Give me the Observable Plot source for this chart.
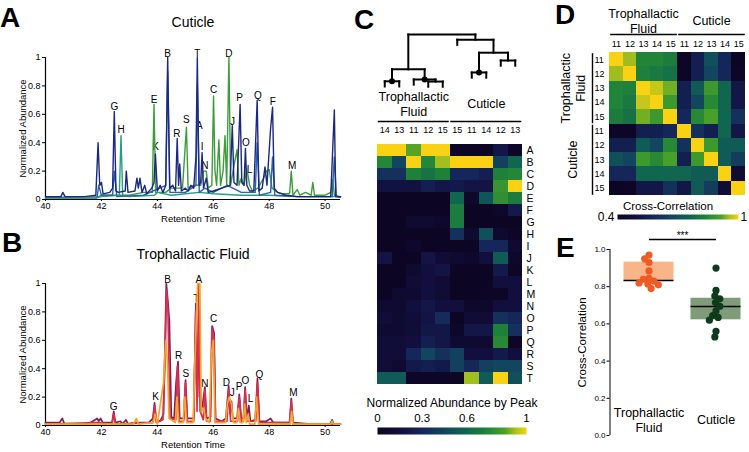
<!DOCTYPE html>
<html><head><meta charset="utf-8">
<script src="https://cdn.jsdelivr.net/npm/d3@7"></script>
<script src="https://cdn.jsdelivr.net/npm/@observablehq/plot@0.6"></script>
<style>
html,body{margin:0;padding:0;background:#fff;}
#fig{position:relative;width:749px;height:452px;overflow:hidden;font-family:"Liberation Sans",Arial,sans-serif;}
#fig svg{position:absolute;background:transparent;overflow:visible;}
.letter{position:absolute;font:bold 28px/28px "Liberation Sans",Arial,sans-serif;color:#000;}
</style></head><body><div id="fig"></div>
<script>
// ---------------- DATA ----------------
// Panel A: cuticle chromatogram traces, [retention time, normalized abundance]
const cutNavy = [[40,0.02],[40.55,0.02],[40.62,0.05],[40.7,0.02],[41.4,0.02],[41.8,0.03],[41.88,0.40],[41.94,0.1],[42.0,0.12],[42.06,0.04],[42.3,0.05],[42.4,0.08],[42.46,0.62],[42.52,0.06],[42.6,0.05],[42.85,0.06],[42.89,0.20],[42.95,0.05],[43.2,0.06],[43.27,0.15],[43.32,0.08],[43.38,0.15],[43.45,0.05],[43.55,0.10],[43.62,0.04],[43.8,0.08],[43.88,0.12],[43.93,0.32],[44.0,0.06],[44.1,0.1],[44.2,0.05],[44.3,0.1],[44.37,1.0],[44.44,0.08],[44.55,0.1],[44.65,0.06],[44.71,0.43],[44.76,0.1],[44.8,0.25],[44.86,0.06],[45.0,0.08],[45.1,0.06],[45.2,0.1],[45.3,0.08],[45.38,0.3],[45.43,1.0],[45.49,0.1],[45.55,0.12],[45.60,0.33],[45.65,0.08],[45.75,0.15],[45.82,0.05],[46.0,0.06],[46.3,0.08],[46.6,0.1],[46.68,0.52],[46.74,0.12],[46.85,0.1],[46.96,0.67],[47.02,0.12],[47.1,0.1],[47.15,0.36],[47.2,0.1],[47.3,0.06],[47.45,0.06],[47.57,0.70],[47.63,0.06],[47.75,0.08],[47.85,0.23],[47.92,0.1],[48.05,0.5],[48.12,0.65],[48.18,0.08],[48.3,0.05],[48.6,0.03],[49.0,0.02],[50.2,0.02],[50.33,0.63],[50.38,0.02],[50.55,0.02]];
const cutBlue = [[40,0.015],[41.85,0.02],[41.9,0.1],[42.0,0.03],[42.4,0.03],[42.46,0.2],[42.55,0.02],[43.5,0.03],[44.3,0.1],[44.37,0.9],[44.45,0.05],[45.0,0.05],[45.38,0.1],[45.43,0.8],[45.5,0.05],[45.7,0.08],[46.0,0.05],[46.5,0.1],[47.0,0.05],[47.5,0.05],[47.57,0.4],[47.65,0.03],[48.05,0.05],[48.12,0.3],[48.2,0.03],[49,0.02],[50.25,0.02],[50.33,0.3],[50.4,0.02],[50.55,0.015]];
const cutGreen = [[40,0.01],[41.8,0.01],[42.0,0.03],[42.6,0.03],[43.0,0.03],[43.5,0.05],[43.82,0.05],[43.88,0.67],[43.94,0.05],[44.3,0.05],[44.5,0.08],[44.9,0.08],[45.04,0.51],[45.1,0.08],[45.3,0.1],[45.55,0.1],[45.65,0.2],[45.75,0.2],[45.82,0.08],[45.95,0.1],[46.01,0.73],[46.06,0.2],[46.12,0.1],[46.2,0.42],[46.26,0.1],[46.35,0.2],[46.42,0.45],[46.48,0.1],[46.56,1.0],[46.62,0.1],[46.75,0.25],[46.85,0.35],[46.92,0.1],[47.0,0.15],[47.1,0.1],[47.2,0.22],[47.3,0.1],[47.4,0.06],[47.6,0.08],[47.8,0.15],[47.9,0.2],[48.0,0.21],[48.1,0.08],[48.3,0.05],[48.5,0.04],[48.73,0.04],[48.79,0.20],[48.85,0.03],[49.0,0.07],[49.1,0.03],[49.3,0.05],[49.5,0.03],[49.56,0.12],[49.62,0.03],[50.0,0.03],[50.2,0.05],[50.27,0.14],[50.33,0.03],[50.55,0.02]];
const cutTeal = [[40,0.01],[41.8,0.01],[42.0,0.02],[42.64,0.03],[42.70,0.45],[42.76,0.03],[43.0,0.02],[43.9,0.03],[44.0,0.05],[44.5,0.03],[45.0,0.04],[45.5,0.05],[46.0,0.04],[47.0,0.03],[48.0,0.03],[49.0,0.02],[50.55,0.02]];
const cutLabels = [["G",42.46,0.62],["H",42.70,0.46],["E",43.88,0.67],["K",43.94,0.34],["B",44.37,1.0],["R",44.70,0.43],["S",45.04,0.53],["A",45.50,0.49],["T",45.43,1.0],["I",45.60,0.34],["N",45.70,0.21],["C",46.01,0.74],["D",46.56,1.0],["J",46.69,0.52],["P",46.94,0.69],["O",47.17,0.37],["L",47.30,0.18],["Q",47.60,0.70],["F",48.13,0.66],["M",48.82,0.21]];

// Panel B: trophallactic fluid chromatogram traces
const tfMaroon = [[40,0.02],[40.5,0.02],[40.6,0.05],[40.68,0.01],[41.3,0.01],[41.6,0.02],[41.85,0.05],[41.9,0.03],[41.97,0.05],[42.05,0.02],[42.38,0.02],[42.44,0.10],[42.5,0.02],[42.68,0.03],[42.75,0.01],[42.88,0.04],[42.95,0.01],[43.2,0.02],[43.7,0.02],[43.84,0.05],[43.9,0.16],[43.96,0.04],[44.1,0.03],[44.22,0.08],[44.32,1.0],[44.38,0.87],[44.43,0.73],[44.5,0.06],[44.6,0.05],[44.67,0.3],[44.74,0.45],[44.8,0.05],[44.95,0.05],[45.01,0.32],[45.07,0.05],[45.3,0.05],[45.38,0.86],[45.44,0.2],[45.5,0.8],[45.55,0.1],[45.62,0.15],[45.70,0.27],[45.76,0.05],[45.9,0.06],[45.96,0.70],[46.03,0.65],[46.08,0.05],[46.3,0.03],[46.45,0.05],[46.55,0.28],[46.6,0.08],[46.65,0.17],[46.7,0.05],[46.85,0.05],[46.93,0.22],[47.0,0.05],[47.08,0.05],[47.14,0.27],[47.2,0.05],[47.27,0.14],[47.33,0.03],[47.5,0.04],[47.58,0.33],[47.65,0.03],[47.9,0.03],[48.05,0.05],[48.15,0.02],[48.73,0.02],[48.79,0.19],[48.85,0.02],[49.5,0.01],[50.18,0.01],[50.25,0.04],[50.3,0.01],[50.55,0.01]];
const tfCrimson = [[40,0.01],[41.85,0.02],[42.38,0.01],[42.44,0.08],[42.5,0.01],[43.84,0.02],[43.9,0.14],[43.96,0.02],[44.2,0.04],[44.28,0.5],[44.33,0.95],[44.38,0.8],[44.45,0.05],[44.66,0.04],[44.72,0.42],[44.78,0.03],[44.94,0.03],[45.0,0.3],[45.07,0.03],[45.3,0.03],[45.37,0.8],[45.42,0.1],[45.48,1.0],[45.53,0.1],[45.64,0.04],[45.70,0.25],[45.76,0.03],[45.89,0.03],[45.95,0.68],[46.02,0.62],[46.08,0.03],[46.49,0.03],[46.55,0.25],[46.62,0.03],[46.87,0.03],[46.93,0.2],[47.0,0.03],[47.08,0.03],[47.14,0.25],[47.2,0.03],[47.52,0.03],[47.58,0.3],[47.65,0.02],[48.73,0.02],[48.79,0.17],[48.85,0.01],[50.55,0.01]];
const tfOrange = [[40,0.01],[43.15,0.01],[43.25,0.05],[43.32,0.01],[43.85,0.02],[43.92,0.08],[44.0,0.01],[44.22,0.3],[44.3,0.6],[44.36,0.45],[44.42,0.05],[44.64,0.02],[44.7,0.2],[44.76,0.02],[44.92,0.02],[44.98,0.2],[45.05,0.02],[45.28,0.02],[45.35,0.5],[45.44,1.0],[45.52,1.0],[45.57,0.1],[45.65,0.12],[45.72,0.05],[45.86,0.02],[45.93,0.5],[46.0,0.6],[46.06,0.02],[46.44,0.02],[46.5,0.15],[46.57,0.2],[46.65,0.15],[46.72,0.02],[46.84,0.02],[46.9,0.12],[46.96,0.02],[47.06,0.02],[47.12,0.15],[47.18,0.02],[47.25,0.08],[47.3,0.01],[47.49,0.01],[47.55,0.2],[47.62,0.01],[48.75,0.01],[48.8,0.1],[48.85,0.01],[50.2,0.01],[50.25,0.03],[50.3,0.01],[50.55,0.01]];
const tfLabels = [["G",42.44,0.105],["K",43.94,0.17],["B",44.37,1.0],["R",44.76,0.458],["S",45.02,0.333],["T",45.39,0.865],["A",45.48,1.0],["N",45.70,0.267],["C",46.01,0.72],["D",46.47,0.274],["J",46.68,0.2],["P",46.92,0.24],["O",47.15,0.286],["L",47.33,0.155],["Q",47.65,0.33],["M",48.87,0.20]];

const retTicks = [40, 42, 44, 46, 48, 50];
const abundTicks = [0, 0.2, 0.4, 0.6, 0.8, 1];

// Panel C: heatmap (rows = peaks A..T, columns = samples in dendrogram order)
const peakLetters = ["A","B","C","D","E","F","G","H","I","J","K","L","M","N","O","P","Q","R","S","T"];
const heatCols = ["14","13","11","12","15","15","11","14","12","13"];
const heatGroups = [{name:"Trophallactic\nFluid", start:0, end:5}, {name:"Cuticle", start:5, end:10}];
const heatValues = [
  [1, 1, 0.86, 1, 1, 0, 0, 0, 0.2, 0.02],
  [0.74, 0.45, 1, 0.74, 0.92, 1, 1, 1, 0.42, 0.6],
  [0.35, 0.35, 0.72, 0.66, 0.72, 0.3, 0.3, 0.25, 0.72, 0.74],
  [0.17, 0.17, 0.17, 0.25, 0.2, 0.22, 0.18, 0.18, 0.8, 1],
  [0, 0, 0, 0, 0, 0.6, 0.05, 0.52, 0.78, 0.7],
  [0, 0, 0, 0, 0, 0.7, 0, 0, 0.05, 0.22],
  [0, 0, 0.07, 0.07, 0.05, 0.7, 0, 0, 0, 0],
  [0, 0, 0, 0, 0, 0.35, 0.07, 0.5, 0.06, 0.02],
  [0, 0, 0.05, 0, 0, 0, 0, 0.3, 0.3, 0.08],
  [0.18, 0, 0, 0.18, 0.1, 0.08, 0.05, 0.15, 0.55, 0.05],
  [0, 0, 0.07, 0.15, 0.18, 0, 0, 0, 0.22, 0.02],
  [0, 0, 0.1, 0.15, 0.1, 0, 0, 0, 0.15, 0.15],
  [0, 0.08, 0.08, 0.15, 0.1, 0, 0, 0.02, 0.02, 0.15],
  [0.08, 0.08, 0.15, 0.2, 0.15, 0.15, 0.05, 0.05, 0.15, 0.15],
  [0.12, 0.08, 0.12, 0.18, 0.32, 0, 0.1, 0.1, 0.35, 0.3],
  [0.08, 0.08, 0.12, 0.2, 0.2, 0.03, 0.2, 0.2, 0.72, 0.35],
  [0.12, 0.12, 0.15, 0.25, 0.2, 0.08, 0.08, 0.08, 0.75, 0.02],
  [0.12, 0.12, 0.3, 0.45, 0.35, 0.42, 0.15, 0.15, 0.22, 0.15],
  [0.12, 0.08, 0.22, 0.25, 0.22, 0.42, 0.3, 0.42, 0.45, 0.45],
  [0.55, 0.55, 0.02, 0.02, 0.02, 0.02, 0.92, 0.55, 1, 0.5]
];
// dendrogram merges (children: leaf column index or merge id; height: linkage distance, root = 1)
const dendroMerges = [
  {id:"a", left:0, right:1, height:0.10, dot:true},
  {id:"b", left:3, right:4, height:0.095},
  {id:"c", left:2, right:"b", height:0.135, dot:true},
  {id:"d", left:"a", right:"c", height:0.33},
  {id:"e", left:6, right:7, height:0.27, dot:true},
  {id:"f", left:8, right:9, height:0.50},
  {id:"g", left:"e", right:"f", height:0.65},
  {id:"h", left:5, right:"g", height:0.90},
  {id:"root", left:"d", right:"h", height:1.0}
];
const abundanceTicks = [0, 0.3, 0.6, 1];

// Panel D: cross-correlation matrix
const ccSamples = ["11","12","13","14","15","11","12","13","14","15"];
const ccGroups = [{name:"Trophallactic\nFluid", start:0, end:5}, {name:"Cuticle", start:5, end:10}];
const ccMatrix = [
  [1, 0.95, 0.84, 0.84, 0.82, 0.41, 0.55, 0.70, 0.58, 0.40],
  [0.95, 1, 0.83, 0.81, 0.79, 0.41, 0.55, 0.67, 0.58, 0.41],
  [0.84, 0.83, 1, 0.97, 0.93, 0.55, 0.73, 0.89, 0.76, 0.52],
  [0.84, 0.81, 0.97, 1, 0.89, 0.55, 0.67, 0.85, 0.76, 0.52],
  [0.82, 0.79, 0.93, 0.89, 1, 0.58, 0.85, 0.91, 0.76, 0.61],
  [0.41, 0.41, 0.55, 0.55, 0.58, 1, 0.61, 0.55, 0.76, 0.52],
  [0.55, 0.55, 0.73, 0.67, 0.85, 0.61, 1, 0.89, 0.73, 0.73],
  [0.70, 0.67, 0.89, 0.85, 0.91, 0.55, 0.89, 1, 0.73, 0.64],
  [0.58, 0.58, 0.76, 0.76, 0.76, 0.76, 0.73, 0.73, 1, 0.46],
  [0.40, 0.41, 0.52, 0.52, 0.61, 0.52, 0.73, 0.64, 0.46, 1]
];
const ccRange = [0.4, 1];

// Panel E: within-group cross-correlations
const eCats = ["Trophallactic\nFluid", "Cuticle"];
const eTF = [0.97, 0.95, 0.93, 0.885, 0.845, 0.84, 0.83, 0.82, 0.815, 0.81, 0.79];
const eCut = [0.90, 0.78, 0.75, 0.735, 0.715, 0.695, 0.67, 0.645, 0.635, 0.62, 0.56, 0.53];
const eBoxes = [{cat: eCats[0], low: 0.833, high: 0.932, mid: 0.833}, {cat: eCats[1], low: 0.622, high: 0.738, mid: 0.693}];
const eTicks = [0, 0.2, 0.4, 0.6, 0.8, 1];

// ---------------- STYLE ----------------
const FONT = "Liberation Sans, Arial, sans-serif";
const mapStops = [0, 0.15, 0.3, 0.45, 0.58, 0.72, 0.85, 0.93, 1];
const mapColors = ["#0c0524","#120f3e","#15275a","#12465f","#0f6152","#1d813a","#48a02a","#b0c31c","#f8d213"];
const baseStyle = {fontFamily: FONT, fontSize: "9px", background: "transparent", overflow: "visible", color: "black"};
const fig = document.getElementById("fig");
function place(el, left, top) { el.style.left = left + "px"; el.style.top = top + "px"; fig.appendChild(el); }
function letter(t, left, top) { const d = document.createElement("div"); d.className = "letter"; d.textContent = t; d.style.left = left + "px"; d.style.top = top + "px"; fig.appendChild(d); }

// ---------------- A & B ----------------
function chrom(series, labels, title, titleDy, sw) {
  return Plot.plot({
    width: 349, height: 226, marginLeft: 45, marginRight: 9, marginTop: 57, marginBottom: 27,
    style: baseStyle,
    x: {domain: [40, 50.55]}, y: {domain: [0, 1]},
    marks: [
      Plot.axisX({ticks: retTicks, tickSize: 2, tickPadding: 1, fontSize: 9, label: null, color: "black"}),
      Plot.axisY({ticks: abundTicks, tickSize: 3, tickPadding: 2, fontSize: 9, tickFormat: d3.format("~g"), label: null, color: "black"}),
      Plot.ruleX([40], {y1: () => 0, y2: () => 1, stroke: "black", strokeWidth: 1.2}),
      Plot.text(labels, {x: d => d[1], y: d => d[2], text: d => d[0], lineAnchor: "bottom", dy: -1, fontSize: 10, fill: "black"}),
      ...series.map(s => Plot.line(s.data, {x: d => d[0], y: d => d[1], stroke: s.color, strokeWidth: sw})),
      Plot.ruleY([0], {stroke: "black", strokeWidth: 1}),
      Plot.text([title], {frameAnchor: "top", dy: titleDy, fontSize: 14, lineAnchor: "middle", fill: "black"}),
      Plot.text(["Retention Time"], {frameAnchor: "bottom", dy: 19, fontSize: 9.5, lineAnchor: "middle", fill: "black"}),
      Plot.text(["Normalized Abundance"], {frameAnchor: "left", rotate: -90, dx: -23, textAnchor: "middle", fontSize: 9.5, lineAnchor: "middle", fill: "black"})
    ]
  });
}
place(chrom([{data: cutGreen, color: "#3d9c3c"}, {data: cutTeal, color: "#27a07c"}, {data: cutBlue, color: "#2d62b0"}, {data: cutNavy, color: "#1b2a7e"}], cutLabels, "Cuticle", -35, 1.4), 0, 0);
place(chrom([{data: tfMaroon, color: "#7e1f5c"}, {data: tfCrimson, color: "#d8304f"}, {data: tfOrange, color: "#f7a52a"}], tfLabels, "Trophallactic Fluid", -29, 1.7), 0, 226);

// ---------------- C ----------------
const pos = {};
heatCols.forEach((c, i) => pos[i] = {x: i + 0.5, h: null});
const leafStub = 0.1;
const dendroSegs = [], dendroDots = [];
for (const m of dendroMerges) {
  const L = pos[m.left], R = pos[m.right];
  dendroSegs.push({x1: L.x, y1: m.height, x2: R.x, y2: m.height});
  for (const c of [L, R]) dendroSegs.push({x1: c.x, y1: m.height, x2: c.x, y2: c.h === null ? m.height - leafStub : c.h});
  pos[m.id] = {x: (L.x + R.x) / 2, h: m.height};
  if (m.dot) dendroDots.push(pos[m.id]);
}
place(Plot.plot({
  width: 190, height: 100, marginLeft: 17, marginRight: 28, marginTop: 9, marginBottom: 39,
  style: baseStyle,
  x: {domain: [0, 10], axis: null}, y: {domain: [0, 1], axis: null},
  marks: [
    Plot.link(dendroSegs, {x1: "x1", y1: "y1", x2: "x2", y2: "y2", stroke: "black", strokeWidth: 2, strokeLinecap: "square"}),
    Plot.dot(dendroDots, {x: "x", y: "h", r: 3, fill: "black"}),
    Plot.ruleY(heatGroups, {x1: d => d.start + 0.05, x2: d => d.end - 0.05, y: () => 0, dy: 35, stroke: "black", strokeWidth: 1.5}),
    Plot.text(heatGroups, {x: d => (d.start + d.end) / 2, y: () => 0, dy: 17, text: "name", lineAnchor: "middle", lineHeight: 1.2, fontSize: 12.5, fill: "black"})
  ]
}), 360, 25);

const heatCells = [];
heatValues.forEach((row, r) => row.forEach((v, c) => heatCells.push({row: peakLetters[r], c, v})));
const abundColor = {type: "linear", domain: mapStops, range: mapColors, interpolate: "rgb"};
place(Plot.plot({
  width: 190, height: 305, marginLeft: 17, marginRight: 28, marginTop: 57, marginBottom: 5,
  style: baseStyle,
  x: {domain: [0, 10], axis: null},
  y: {type: "band", domain: peakLetters, padding: 0, axis: null},
  color: abundColor,
  marks: [
    Plot.barX(heatCells, {x1: "c", x2: d => d.c + 1, y: "row", fill: "v", inset: 0, shapeRendering: "crispEdges"}),
    Plot.text(peakLetters, {y: d => d, frameAnchor: "right", dx: 4, textAnchor: "start", fontSize: 10.5, fill: "#000000"}),
    Plot.text(heatCols, {x: (d, i) => i + 0.5, frameAnchor: "top", dy: -12, fontSize: 9, lineAnchor: "middle", fill: "black"})
  ]
}), 360, 85);

place(Plot.plot({
  width: 190, height: 45, marginLeft: 17, marginRight: 24, marginTop: 32, marginBottom: 6,
  style: baseStyle,
  x: {domain: [0, 1], axis: null}, y: {domain: [0, 1], axis: null},
  color: abundColor,
  marks: [
    Plot.raster({x1: 0, x2: 1, y1: 0, y2: 1, width: 200, height: 1, fill: (x, y) => x, imageRendering: "auto"}),
    Plot.text(abundanceTicks, {x: d => d, frameAnchor: "top", dy: -9, fontSize: 11.5, lineAnchor: "middle", text: d3.format("~g"), fill: "black"}),
    Plot.text(["Normalized Abundance by Peak"], {frameAnchor: "top", dy: -24, fontSize: 12, lineAnchor: "middle", fill: "black"})
  ]
}), 360, 395);

// ---------------- D ----------------
const ccCells = [];
ccMatrix.forEach((row, r) => row.forEach((v, c) => ccCells.push({r, c, v})));
const ccColor = {type: "linear", domain: mapStops.map(t => ccRange[0] + t * (ccRange[1] - ccRange[0])), range: mapColors, interpolate: "rgb"};
place(Plot.plot({
  width: 189, height: 200, marginLeft: 49, marginRight: 4, marginTop: 52, marginBottom: 5,
  style: baseStyle,
  x: {domain: [0, 10], axis: null}, y: {domain: [0, 10], reverse: true, axis: null},
  color: ccColor,
  marks: [
    Plot.rect(ccCells, {x1: "c", x2: d => d.c + 1, y1: "r", y2: d => d.r + 1, fill: "v", shapeRendering: "crispEdges"}),
    Plot.text(ccSamples, {x: (d, i) => i + 0.5, frameAnchor: "top", dy: -8, fontSize: 9, lineAnchor: "middle", fill: "black"}),
    Plot.text(ccSamples, {y: (d, i) => i + 0.5, frameAnchor: "left", dx: -15, textAnchor: "start", fontSize: 9, fill: "black"}),
    Plot.link(ccGroups, {x1: d => d.start + 0.05, x2: d => d.end - 0.05, y1: () => 0, y2: () => 0, dy: -18, stroke: "black", strokeWidth: 1.4}),
    Plot.link(ccGroups, {x1: () => 0, x2: () => 0, y1: d => d.start + 0.05, y2: d => d.end - 0.05, dx: -17, stroke: "black", strokeWidth: 1.4}),
    Plot.text(ccGroups, {x: d => (d.start + d.end) / 2, frameAnchor: "top", dy: -32, text: "name", lineAnchor: "middle", lineHeight: 1.2, fontSize: 12.5, fill: "black"}),
    Plot.text(ccGroups, {y: d => (d.start + d.end) / 2, frameAnchor: "left", dx: -37, rotate: -90, text: "name", textAnchor: "middle", lineAnchor: "middle", lineHeight: 1.2, fontSize: 12.5, fill: "black"})
  ]
}), 560, 0);

place(Plot.plot({
  width: 189, height: 26, marginLeft: 57, marginRight: 11, marginTop: 16, marginBottom: 5,
  style: baseStyle,
  x: {domain: ccRange, axis: null}, y: {domain: [0, 1], axis: null},
  color: ccColor,
  marks: [
    Plot.raster({x1: ccRange[0], x2: ccRange[1], y1: 0, y2: 1, width: 200, height: 1, fill: (x, y) => x, imageRendering: "auto"}),
    Plot.text([ccRange[0]], {frameAnchor: "left", dx: -3, textAnchor: "end", fontSize: 12, text: d3.format(".1f"), fill: "black"}),
    Plot.text([ccRange[1]], {frameAnchor: "right", dx: 2, textAnchor: "start", fontSize: 12, text: d3.format("~g"), fill: "black"}),
    Plot.text(["Cross-Correlation"], {frameAnchor: "top", dy: -8, dx: -10, fontSize: 11.5, lineAnchor: "middle", fill: "black"})
  ]
}), 560, 198);

// ---------------- E ----------------
const ePoints = [...eTF.map(v => ({cat: eCats[0], v, col: "#f05a24"})), ...eCut.map(v => ({cat: eCats[1], v, col: "#0e3b1e"}))];
const eBoxColors = ["#f9b487", "#7f9c78"];
place(Plot.plot({
  width: 189, height: 227, marginLeft: 54.5, marginRight: 0.5, marginTop: 24, marginBottom: 17,
  style: baseStyle,
  fx: {domain: eCats, padding: 0, axis: null},
  x: {domain: [-1, 1], axis: null},
  y: {domain: [0, 1], axis: null},
  color: {type: "identity"},
  marks: [
    Plot.barY(eBoxes, {fx: "cat", y1: "low", y2: "high", fill: (d, i) => eBoxColors[i], insetLeft: 8.5, insetRight: 8.5}),
    Plot.ruleY(eBoxes, {fx: "cat", y: "mid", insetLeft: 8.5, insetRight: 8.5, stroke: "black", strokeWidth: 1.5}),
    Plot.dot(ePoints, Plot.dodgeX({anchor: "middle", padding: -1.5}, {fx: "cat", y: "v", r: 3.6, fill: "col"})),
    Plot.axisY({ticks: eTicks, tickFormat: d3.format(".1f"), tickSize: 3, tickPadding: 1.5, fontSize: 8, dx: -5.5, label: null, color: "black"}),
    Plot.ruleX([eCats[0]], {fx: d => d, x: () => -1, y1: () => 0, y2: () => 1, dx: -5.5, stroke: "black", strokeWidth: 1}),
    Plot.link([eCats[0]], {fx: d => d, x1: () => 0, x2: () => 2, y1: () => 1, y2: () => 1, dy: -10, stroke: "black", strokeWidth: 1.5}),
    Plot.text([eCats[0]], {fx: d => d, x: () => 1, y: () => 1, text: () => "***", dy: -14, fontSize: 10, lineAnchor: "middle", fill: "black"}),
    Plot.text(eCats, {fx: d => d, frameAnchor: "bottom", dy: -16, lineAnchor: "middle", lineHeight: 1.2, fontSize: 12.5, fill: "black"}),
    Plot.text([eCats[0]], {fx: d => d, frameAnchor: "left", rotate: -90, dx: -33.5, text: () => "Cross-Correlation", textAnchor: "middle", fontSize: 11.5, lineAnchor: "middle", fill: "black"})
  ]
}), 560, 225);

// panel letters
letter("A", 0, 4); letter("B", 2, 229); letter("C", 354, 6); letter("D", 555, 1); letter("E", 556, 234);
</script></body></html>
